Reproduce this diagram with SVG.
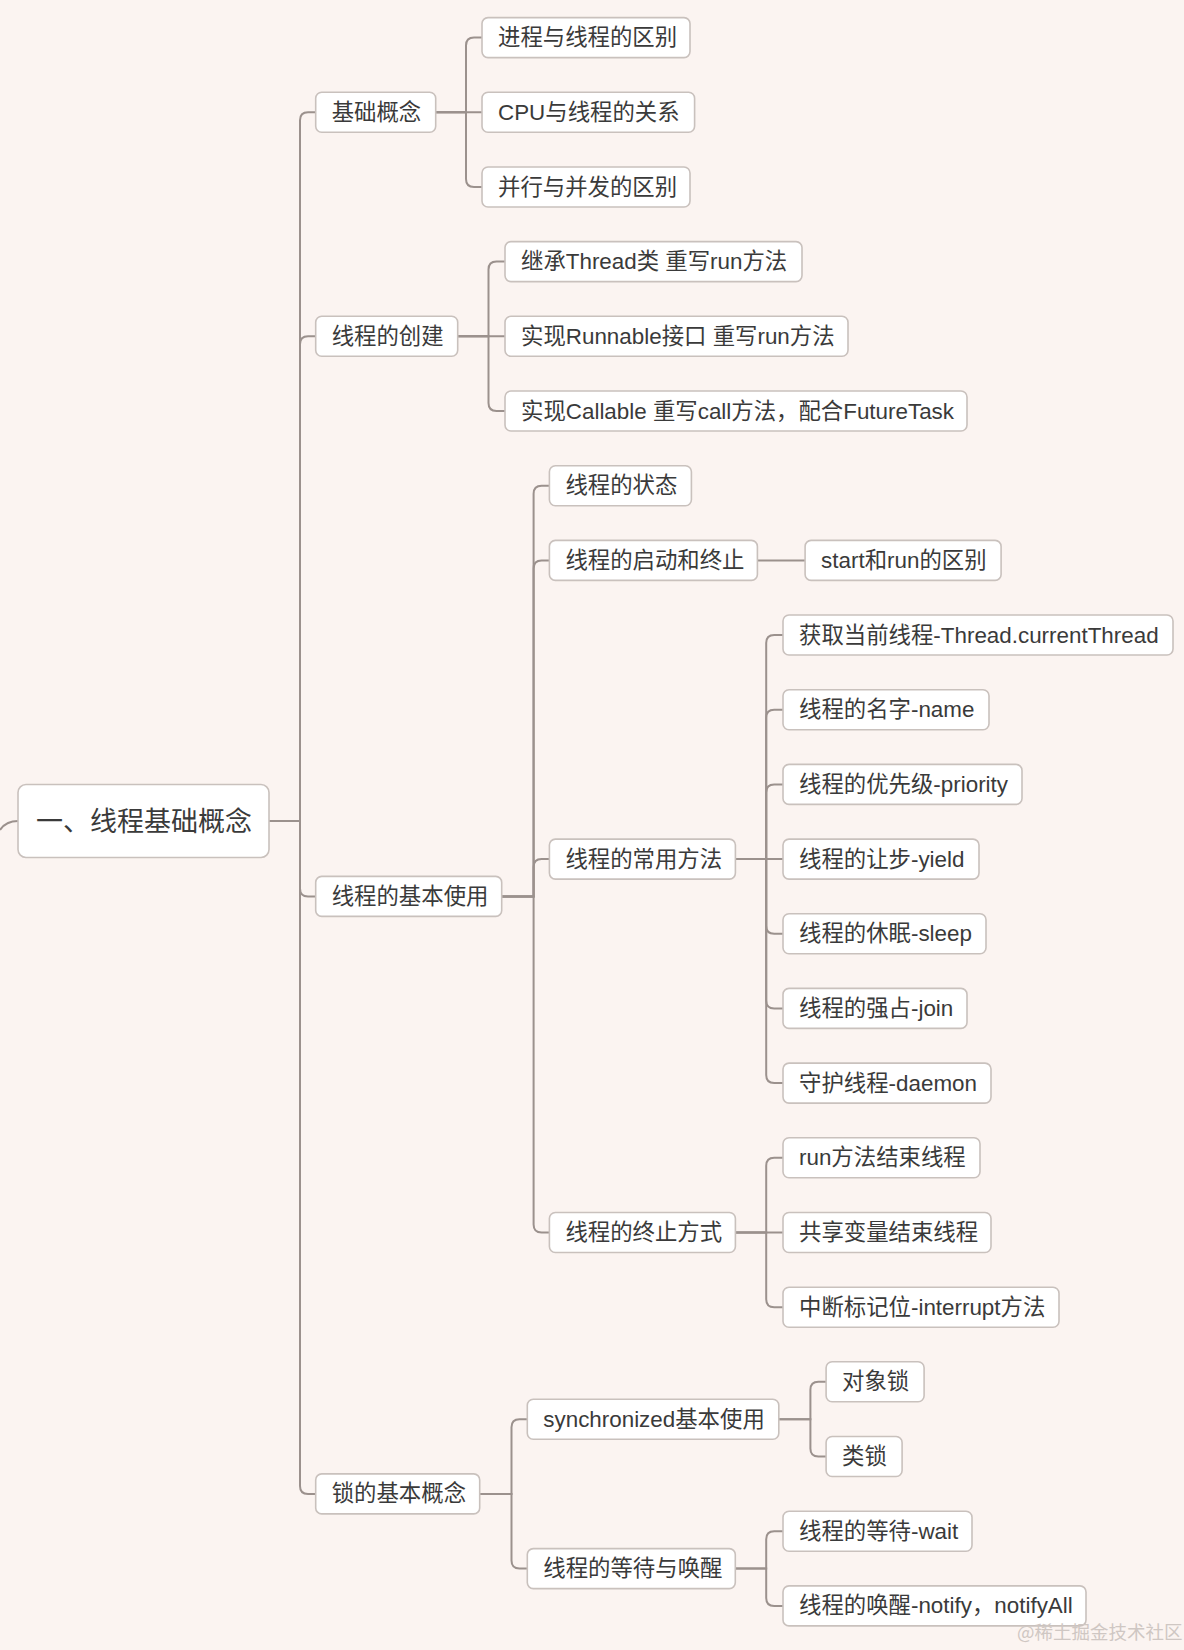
<svg xmlns="http://www.w3.org/2000/svg" width="1184" height="1650" viewBox="0 0 1184 1650">
<style>
.bg{fill:#FBF4F1}
.n rect{fill:#FFFFFF;stroke:#C9C1BD;stroke-width:1.6}
.n text{font-family:"Liberation Sans","Noto Sans CJK SC",sans-serif;font-size:22.4px;fill:#3A3A3A}
.root text{font-size:27px}
.c path{fill:none;stroke:#9B918D;stroke-width:2}
.wm{font-family:"Noto Sans CJK SC",sans-serif;font-size:18.5px;fill:#CFC7C3}
</style>
<rect class="bg" x="0" y="0" width="1184" height="1650"/>
<g class="c" id="connectors">
<path d="M0,830 Q6,821 18,821"/>
<path d="M269,821 H300 V120.3 Q300,112.3 308,112.3 H315.7"/>
<path d="M269,821 H300 V344.3 Q300,336.3 308,336.3 H315.7"/>
<path d="M269,821 H300 V888.4 Q300,896.4 308,896.4 H315.7"/>
<path d="M269,821 H300 V1485.9 Q300,1493.9 308,1493.9 H315.7"/>
<path d="M435.7,112.3 H466 V45.6 Q466,37.6 474,37.6 H482"/>
<path d="M435.7,112.3 H482"/>
<path d="M435.7,112.3 H466 V179 Q466,187 474,187 H482"/>
<path d="M457.7,336.3 H488.5 V269.6 Q488.5,261.6 496.5,261.6 H505"/>
<path d="M457.7,336.3 H505"/>
<path d="M457.7,336.3 H488.5 V403 Q488.5,411 496.5,411 H505"/>
<path d="M501.7,896.4 H533.6 V493.7 Q533.6,485.7 541.6,485.7 H549.4"/>
<path d="M501.7,896.4 H533.6 V568.4 Q533.6,560.4 541.6,560.4 H549.4"/>
<path d="M501.7,896.4 H533.6 V867.1 Q533.6,859.1 541.6,859.1 H549.4"/>
<path d="M501.7,896.4 H533.6 V1224.5 Q533.6,1232.5 541.6,1232.5 H549.4"/>
<path d="M757.4,560.4 H805.1"/>
<path d="M735.4,859.1 H766.2 V643 Q766.2,635 774.2,635 H783"/>
<path d="M735.4,859.1 H766.2 V717.7 Q766.2,709.7 774.2,709.7 H783"/>
<path d="M735.4,859.1 H766.2 V792.4 Q766.2,784.4 774.2,784.4 H783"/>
<path d="M735.4,859.1 H783"/>
<path d="M735.4,859.1 H766.2 V925.8 Q766.2,933.8 774.2,933.8 H783"/>
<path d="M735.4,859.1 H766.2 V1000.4 Q766.2,1008.4 774.2,1008.4 H783"/>
<path d="M735.4,859.1 H766.2 V1075.1 Q766.2,1083.1 774.2,1083.1 H783"/>
<path d="M735.4,1232.5 H766.2 V1165.8 Q766.2,1157.8 774.2,1157.8 H783"/>
<path d="M735.4,1232.5 H783"/>
<path d="M735.4,1232.5 H766.2 V1299.2 Q766.2,1307.2 774.2,1307.2 H783"/>
<path d="M479.7,1493.9 H511.5 V1427.2 Q511.5,1419.2 519.5,1419.2 H527.3"/>
<path d="M479.7,1493.9 H511.5 V1560.6 Q511.5,1568.6 519.5,1568.6 H527.3"/>
<path d="M778.8,1419.2 H810.4 V1389.8 Q810.4,1381.8 818.4,1381.8 H826.1"/>
<path d="M778.8,1419.2 H810.4 V1448.5 Q810.4,1456.5 818.4,1456.5 H826.1"/>
<path d="M735.3,1568.6 H766.2 V1539.2 Q766.2,1531.2 774.2,1531.2 H783"/>
<path d="M735.3,1568.6 H766.2 V1597.9 Q766.2,1605.9 774.2,1605.9 H783"/>
</g>
<g class="n root" id="root"><rect x="18" y="784.5" width="251" height="73" rx="8"/><text x="36" y="830.5">一、线程基础概念</text></g>
<g class="n" id="n-jichu"><rect x="315.7" y="92.3" width="120" height="40" rx="6"/><text x="331.7" y="119.8">基础概念</text></g>
<g class="n" id="n-chuangjian"><rect x="315.7" y="316.3" width="142" height="40" rx="6"/><text x="331.7" y="343.8">线程的创建</text></g>
<g class="n" id="n-shiyong"><rect x="315.7" y="876.4" width="186" height="40" rx="6"/><text x="331.7" y="903.9">线程的基本使用</text></g>
<g class="n" id="n-suo"><rect x="315.7" y="1473.9" width="164" height="40" rx="6"/><text x="331.7" y="1501.4">锁的基本概念</text></g>
<g class="n" id="n-jincheng"><rect x="482" y="17.6" width="208" height="40" rx="6"/><text x="498" y="45.1">进程与线程的区别</text></g>
<g class="n" id="n-cpu"><rect x="482" y="92.3" width="212.6" height="40" rx="6"/><text x="498" y="119.8">CPU与线程的关系</text></g>
<g class="n" id="n-bingxing"><rect x="482" y="167" width="208" height="40" rx="6"/><text x="498" y="194.5">并行与并发的区别</text></g>
<g class="n" id="n-thread"><rect x="505" y="241.6" width="297" height="40" rx="6"/><text x="521" y="269.1">继承Thread类 重写run方法</text></g>
<g class="n" id="n-runnable"><rect x="505" y="316.3" width="343" height="40" rx="6"/><text x="521" y="343.8">实现Runnable接口 重写run方法</text></g>
<g class="n" id="n-callable"><rect x="505" y="391" width="462" height="40" rx="6"/><text x="521" y="418.5">实现Callable 重写call方法，配合FutureTask</text></g>
<g class="n" id="n-zhuangtai"><rect x="549.4" y="465.7" width="142" height="40" rx="6"/><text x="565.4" y="493.2">线程的状态</text></g>
<g class="n" id="n-qidong"><rect x="549.4" y="540.4" width="208" height="40" rx="6"/><text x="565.4" y="567.9">线程的启动和终止</text></g>
<g class="n" id="n-startrun"><rect x="805.1" y="540.4" width="196" height="40" rx="6"/><text x="821.1" y="567.9">start和run的区别</text></g>
<g class="n" id="n-changyong"><rect x="549.4" y="839.1" width="186" height="40" rx="6"/><text x="565.4" y="866.6">线程的常用方法</text></g>
<g class="n" id="n-current"><rect x="783" y="615" width="390" height="40" rx="6"/><text x="799" y="642.5">获取当前线程-Thread.currentThread</text></g>
<g class="n" id="n-name"><rect x="783" y="689.7" width="206" height="40" rx="6"/><text x="799" y="717.2">线程的名字-name</text></g>
<g class="n" id="n-priority"><rect x="783" y="764.4" width="239" height="40" rx="6"/><text x="799" y="791.9">线程的优先级-priority</text></g>
<g class="n" id="n-yield"><rect x="783" y="839.1" width="196" height="40" rx="6"/><text x="799" y="866.6">线程的让步-yield</text></g>
<g class="n" id="n-sleep"><rect x="783" y="913.8" width="203" height="40" rx="6"/><text x="799" y="941.3">线程的休眠-sleep</text></g>
<g class="n" id="n-join"><rect x="783" y="988.4" width="184" height="40" rx="6"/><text x="799" y="1015.9">线程的强占-join</text></g>
<g class="n" id="n-daemon"><rect x="783" y="1063.1" width="208" height="40" rx="6"/><text x="799" y="1090.6">守护线程-daemon</text></g>
<g class="n" id="n-zhongzhi"><rect x="549.4" y="1212.5" width="186" height="40" rx="6"/><text x="565.4" y="1240">线程的终止方式</text></g>
<g class="n" id="n-runend"><rect x="783" y="1137.8" width="197" height="40" rx="6"/><text x="799" y="1165.3">run方法结束线程</text></g>
<g class="n" id="n-gongxiang"><rect x="783" y="1212.5" width="208" height="40" rx="6"/><text x="799" y="1240">共享变量结束线程</text></g>
<g class="n" id="n-interrupt"><rect x="783" y="1287.2" width="276" height="40" rx="6"/><text x="799" y="1314.7">中断标记位-interrupt方法</text></g>
<g class="n" id="n-sync"><rect x="527.3" y="1399.2" width="251.5" height="40" rx="6"/><text x="543.3" y="1426.7">synchronized基本使用</text></g>
<g class="n" id="n-duixiang"><rect x="826.1" y="1361.8" width="98" height="40" rx="6"/><text x="842.1" y="1389.3">对象锁</text></g>
<g class="n" id="n-lei"><rect x="826.1" y="1436.5" width="76" height="40" rx="6"/><text x="842.1" y="1464">类锁</text></g>
<g class="n" id="n-dengdai"><rect x="527.3" y="1548.6" width="208" height="40" rx="6"/><text x="543.3" y="1576.1">线程的等待与唤醒</text></g>
<g class="n" id="n-wait"><rect x="783" y="1511.2" width="189" height="40" rx="6"/><text x="799" y="1538.7">线程的等待-wait</text></g>
<g class="n" id="n-notify"><rect x="783" y="1585.9" width="303" height="40" rx="6"/><text x="799" y="1613.4">线程的唤醒-notify，notifyAll</text></g>
<text class="wm" x="1017" y="1639">@稀土掘金技术社区</text>
</svg>
